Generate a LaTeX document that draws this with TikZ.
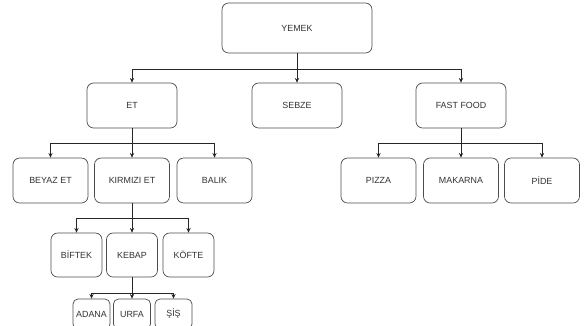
\documentclass[tikz,border=0pt]{standalone}
\usepackage{fontspec}
\setmainfont{Liberation Sans}
\usetikzlibrary{arrows.meta,positioning}

\tikzset{
  kutu/.style={draw=black!70, rounded corners=0.2cm, text=black!80, inner sep=0pt,
    font=\fontsize{7.6}{9}\selectfont},
  ust/.style={kutu, minimum width=4.5cm, minimum height=1.5cm},
  seviye1/.style={kutu, minimum width=2.7cm, minimum height=1.35cm},
  seviye2/.style={kutu, minimum width=2.25cm, minimum height=1.35cm},
  seviye3/.style={kutu, minimum width=1.53cm, minimum height=1.32cm},
  seviye4/.style={kutu, rounded corners=0.15cm, minimum width=1.11cm, minimum height=0.9cm},
  ok/.style={draw=black!85, -{Stealth[length=4pt,width=3.6pt]}},
}

\begin{document}
\begin{tikzpicture}[x=0.03cm, y=-0.03cm, line width=0.6pt]
\useasboundingbox (0,0) rectangle (584,325);
\clip (0,0) rectangle (584,325);

% ana kategori
\node[ust] (yemek) at (297,28) {YEMEK};

% birinci seviye
\node[seviye1] (et) at (132,105.5) {ET};
\node[seviye1] (sebze) at (297,105.5) {SEBZE};
\node[seviye1] (fastfood) at (461,105.5) {FAST FOOD};

% et cesitleri
\node[seviye2] (beyazet) at (50.5,180.5) {BEYAZ ET};
\node[seviye2] (kirmiziet) at (132,180.5) {KIRMIZI ET};
\node[seviye2] (balik) at (214.5,180.5) {BALIK};

% fast food cesitleri
\node[seviye2] (pizza) at (378.5,180.5) {PIZZA};
\node[seviye2] (makarna) at (461,180.5) {MAKARNA};
\node[seviye2] (pide) at (542,180.5) {PİDE};

% kirmizi et
\node[seviye3] (biftek) at (76.5,255) {BİFTEK};
\node[seviye3] (kebap) at (132,255) {KEBAP};
\node[seviye3] (kofte) at (188.5,255) {KÖFTE};

% kebap
\node[seviye4] (adana) at (91.5,314) {ADANA};
\node[seviye4] (urfa) at (132,314) {URFA};
\node[seviye4] (sis) at (173.5,314) {ŞİŞ};

% baglantilar
\draw[ok] (yemek.south) -- ++(0,16) -| (et.north);
\draw[ok] (yemek.south) -- (sebze.north);
\draw[ok] (yemek.south) -- ++(0,16) -| (fastfood.north);

\draw[ok] (et.south) -- ++(0,15) -| (beyazet.north);
\draw[ok] (et.south) -- (kirmiziet.north);
\draw[ok] (et.south) -- ++(0,15) -| (balik.north);

\draw[ok] (fastfood.south) -- ++(0,15) -| (pizza.north);
\draw[ok] (fastfood.south) -- (makarna.north);
\draw[ok] (fastfood.south) -- ++(0,15) -| (pide.north);

\draw[ok] (kirmiziet.south) -- ++(0,15) -| (biftek.north);
\draw[ok] (kirmiziet.south) -- (kebap.north);
\draw[ok] (kirmiziet.south) -- ++(0,15) -| (kofte.north);

\draw[ok] (kebap.south) -- ++(0,16) -| (adana.north);
\draw[ok] (kebap.south) -- (urfa.north);
\draw[ok] (kebap.south) -- ++(0,16) -| (sis.north);
\end{tikzpicture}
\end{document}
